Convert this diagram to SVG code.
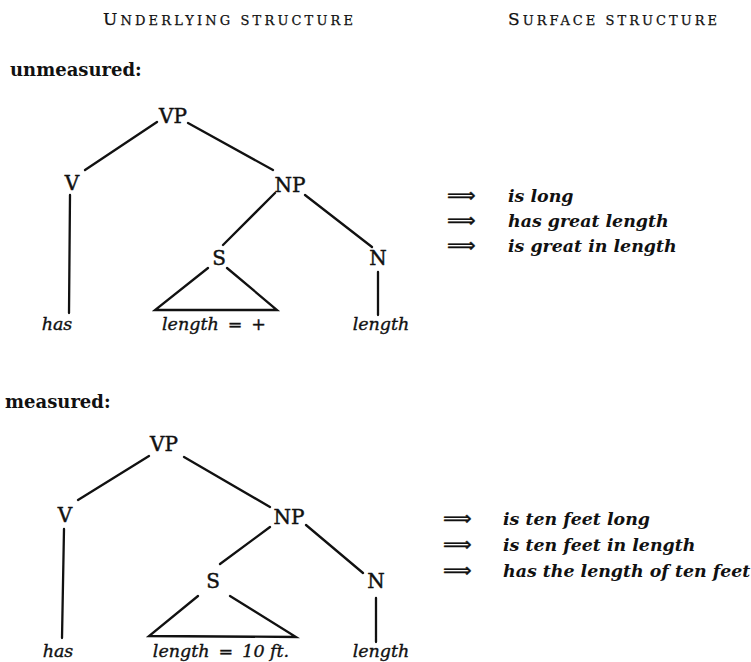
<svg xmlns="http://www.w3.org/2000/svg" width="751" height="662" viewBox="0 0 751 662">
<style>
.hdr{font-family:"DejaVu Serif","Liberation Serif",serif;font-size:13px;fill:#111;stroke:#111;stroke-width:0.25}
.cap{font-size:17px}
.sec{font-family:"DejaVu Serif","Liberation Serif",serif;font-size:18px;font-weight:bold;fill:#111}
.lab{font-family:"DejaVu Serif","Liberation Serif",serif;font-size:20px;fill:#111;stroke:#111;stroke-width:0.45;text-anchor:middle}
.leaf{font-family:"DejaVu Serif","Liberation Serif",serif;font-size:17.5px;font-style:italic;fill:#111;stroke:#111;stroke-width:0.35;text-anchor:middle}
.up{font-style:normal}
.out{font-family:"DejaVu Serif","Liberation Serif",serif;font-size:17.4px;font-style:italic;font-weight:bold;fill:#111}
.arr{font-family:"DejaVu Sans",sans-serif;font-size:20px;fill:#111;stroke:#111;stroke-width:0.4}
.ln{stroke:#111;stroke-width:2.3;fill:none;stroke-linecap:round}
</style>
<rect width="751" height="662" fill="#fff"/>
<text class="hdr" x="103" y="25" textLength="250" lengthAdjust="spacing"><tspan class="cap">U</tspan>NDERLYING STRUCTURE</text>
<text class="hdr" x="508" y="25" textLength="209" lengthAdjust="spacing"><tspan class="cap">S</tspan>URFACE STRUCTURE</text>
<text class="sec" x="10" y="76">unmeasured:</text>
<text class="sec" x="5" y="408">measured:</text>

<g id="connectors">
<path class="ln" d="M157,122 L85,170 M188,123 L273,170 M70,195 L69,313 M275,193 L223,245 M305,195 L372,247 M208,268 L155,310 L277,310 L227,268 M378,272 L378,315"/>
<path class="ln" d="M149,456 L78,500 M184,457 L270,507 M64,529 L62,638 M270,527 L220,564 M306,525 L363,573 M198,596 L149,636 L296,637 L230,596 M376,598 L376,642"/>
</g>

<g id="t1-VP"><text class="lab" x="173" y="123">VP</text></g>
<g id="t1-V"><text class="lab" x="72" y="190">V</text></g>
<g id="t1-NP"><text class="lab" x="290" y="192">NP</text></g>
<g id="t1-S"><text class="lab" x="219" y="265">S</text></g>
<g id="t1-N"><text class="lab" x="378" y="265">N</text></g>
<g id="t1-has"><text class="leaf" x="57" y="330">has</text></g>
<g id="t1-len"><text class="leaf" x="214" y="330">length<tspan class="up" dx="9">=</tspan><tspan class="up" dx="9">+</tspan></text></g>
<g id="t1-length"><text class="leaf" x="381" y="330">length</text></g>

<g id="t2-VP"><text class="lab" x="164" y="451">VP</text></g>
<g id="t2-V"><text class="lab" x="65" y="522">V</text></g>
<g id="t2-NP"><text class="lab" x="289" y="524">NP</text></g>
<g id="t2-S"><text class="lab" x="213" y="588">S</text></g>
<g id="t2-N"><text class="lab" x="376" y="588">N</text></g>
<g id="t2-has"><text class="leaf" x="58" y="657">has</text></g>
<g id="t2-len"><text class="leaf" x="221" y="657">length<tspan class="up" dx="9">=</tspan><tspan dx="9">10 ft.</tspan></text></g>
<g id="t2-length"><text class="leaf" x="381" y="657">length</text></g>

<g id="out1">
<text class="arr" x="447" y="202">⟹</text>
<text class="arr" x="447" y="227">⟹</text>
<text class="arr" x="447" y="252">⟹</text>
<text class="out" x="508" y="202">is long</text>
<text class="out" x="508" y="227">has great length</text>
<text class="out" x="508" y="252">is great in length</text>
</g>
<g id="out2">
<text class="arr" x="443" y="525">⟹</text>
<text class="arr" x="443" y="551">⟹</text>
<text class="arr" x="443" y="577">⟹</text>
<text class="out" x="503" y="525">is ten feet long</text>
<text class="out" x="503" y="551">is ten feet in length</text>
<text class="out" x="503" y="577">has the length of ten feet</text>
</g>
</svg>
